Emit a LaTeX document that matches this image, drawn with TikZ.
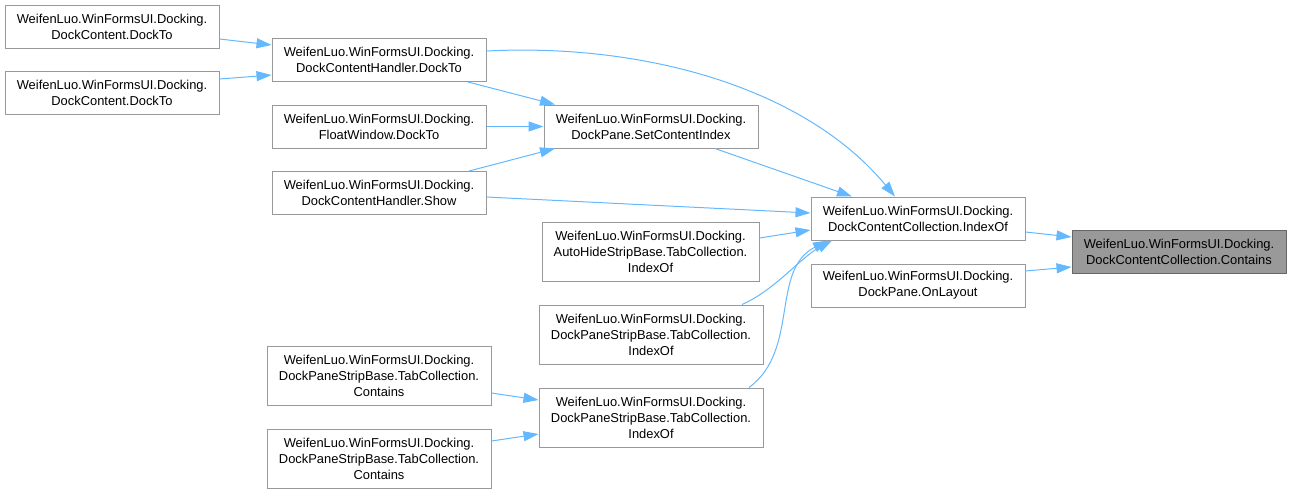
\documentclass[tikz,border=0pt]{standalone}
\usepackage{fontspec}
\setmainfont{Liberation Sans}
\usetikzlibrary{arrows.meta}
\definecolor{edgeblue}{HTML}{63B8FF}
\definecolor{boxline}{HTML}{999999}
\definecolor{rootfill}{HTML}{999999}
\definecolor{rootline}{HTML}{666666}
\tikzstyle{func} = [rectangle, draw=boxline, fill=white, line width=1pt, minimum width=214pt, minimum height=43pt, inner sep=0pt, align=center, font=\fontsize{12.9}{16}\selectfont]
\tikzstyle{wide} = [func, minimum width=224pt, minimum height=59pt]
\tikzstyle{root} = [func, draw=rootline, fill=rootfill]
\tikzstyle{arrow} = [draw=edgeblue, line width=1pt, -{Triangle[length=15pt,width=10pt]}]

\begin{document}
\begin{tikzpicture}[x=1pt, y=-1pt]
        \useasboundingbox (0,0) rectangle (1291,493);
        \node (dcA) [func] at (112,26.5) {WeifenLuo.WinFormsUI.Docking.\\DockContent.DockTo};
        \node (dcB) [func] at (112,93) {WeifenLuo.WinFormsUI.Docking.\\DockContent.DockTo};
        \node (dchDock) [func] at (379,60) {WeifenLuo.WinFormsUI.Docking.\\DockContentHandler.DockTo};
        \node (fwDock) [func] at (379,126.5) {WeifenLuo.WinFormsUI.Docking.\\FloatWindow.DockTo};
        \node (dchShow) [func] at (379,193) {WeifenLuo.WinFormsUI.Docking.\\DockContentHandler.Show};
        \node (setIdx) [func] at (651,126.5) {WeifenLuo.WinFormsUI.Docking.\\DockPane.SetContentIndex};
        \node (autoHide) [wide, minimum width=217pt] at (650.5,252) {WeifenLuo.WinFormsUI.Docking.\\AutoHideStripBase.TabCollection.\\IndexOf};
        \node (dpsbA) [wide] at (651,334.5) {WeifenLuo.WinFormsUI.Docking.\\DockPaneStripBase.TabCollection.\\IndexOf};
        \node (dpsbB) [wide] at (651,417.5) {WeifenLuo.WinFormsUI.Docking.\\DockPaneStripBase.TabCollection.\\IndexOf};
        \node (contA) [wide] at (379,375.5) {WeifenLuo.WinFormsUI.Docking.\\DockPaneStripBase.TabCollection.\\Contains};
        \node (contB) [wide] at (379,458.5) {WeifenLuo.WinFormsUI.Docking.\\DockPaneStripBase.TabCollection.\\Contains};
        \node (idxOf) [func] at (918,218.5) {WeifenLuo.WinFormsUI.Docking.\\DockContentCollection.IndexOf};
        \node (onLayout) [func] at (918,285.5) {WeifenLuo.WinFormsUI.Docking.\\DockPane.OnLayout};
        \node (contains) [root] at (1179,252) {WeifenLuo.WinFormsUI.Docking.\\DockContentCollection.Contains};

        \draw [arrow] ([yshift=-12.5pt]dcA.east) -- ([yshift=15pt]dchDock.west);
        \draw [arrow] ([yshift=14pt]dcB.east) -- ([yshift=-15pt]dchDock.west);
        \draw [arrow] ([yshift=9pt]dchDock.east) .. controls (645,43) and (805,88) .. ([xshift=-23pt]idxOf.north);
        \draw [arrow] ([xshift=89pt]dchDock.south) -- ([xshift=-96pt]setIdx.north);
        \draw [arrow] (fwDock.east) -- (setIdx.west);
        \draw [arrow] ([xshift=90pt]dchShow.north) -- ([xshift=-96pt]setIdx.south);
        \draw [arrow] ([xshift=64pt]setIdx.south) -- ([xshift=-66pt]idxOf.north);
        \draw [arrow] ([yshift=-4pt]dchShow.east) -- ([yshift=5.5pt]idxOf.west);
        \draw [arrow] ([yshift=14pt]autoHide.east) -- ([yshift=-11.5pt]idxOf.west);
        \draw [arrow] ([xshift=91pt]dpsbA.north) .. controls (775,290) and (800,258) .. ([xshift=-86pt]idxOf.south);
        \draw [arrow] ([xshift=98pt]dpsbB.north) .. controls (800,350) and (770,270) .. ([xshift=-90pt]idxOf.south);
        \draw [arrow] ([yshift=-17.5pt]contA.east) -- ([yshift=17.5pt]dpsbB.west);
        \draw [arrow] ([yshift=17.5pt]contB.east) -- ([yshift=-16.5pt]dpsbB.west);
        \draw [arrow] ([yshift=-13.5pt]idxOf.east) -- ([yshift=15pt]contains.west);
        \draw [arrow] ([yshift=14.5pt]onLayout.east) -- ([yshift=-15pt]contains.west);
    \end{tikzpicture}
\end{document}
